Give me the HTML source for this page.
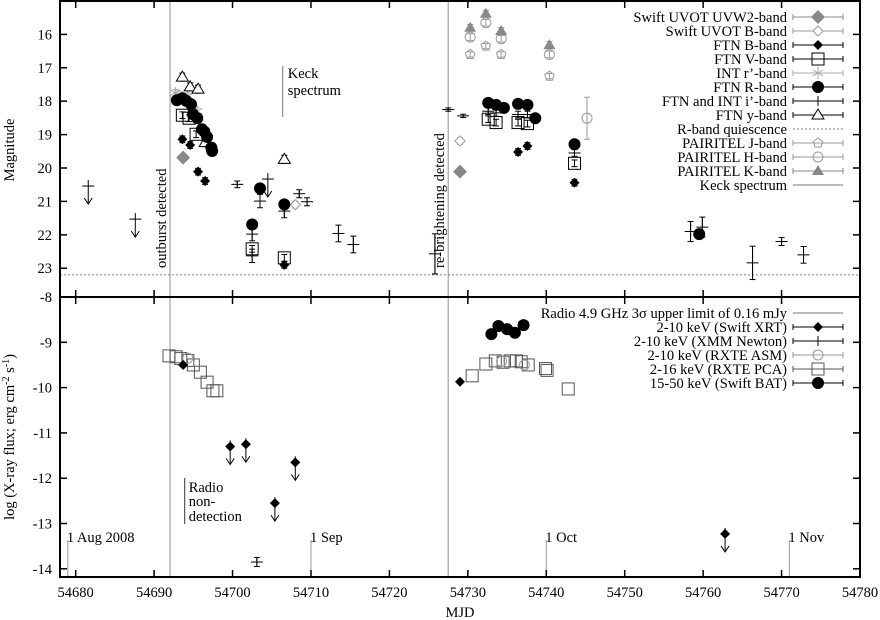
<!DOCTYPE html>
<html><head><meta charset="utf-8"><style>
body{margin:0;background:#fff}
svg{display:block;font-family:"Liberation Serif",serif;font-size:14.5px}
</style></head><body>
<svg id="c" width="880" height="620" viewBox="0 0 880 620">
<g id="marks"></g>
</svg>
<script>
// ---- axes configuration (data ranges)
const xTicks=[54680,54690,54700,54710,54720,54730,54740,54750,54760,54770,54780];
const magTicks=[16,17,18,19,20,21,22,23];
const fluxTicks=[-8,-9,-10,-11,-12,-13,-14];
const months=[["1 Aug 2008",54679],["1 Sep",54710],["1 Oct",54740],["1 Nov",54771]];
// ---- top panel data (MJD, magnitude, error)
const uvw2Mjd=[54693.7,54729.0];
const uvw2Mag=[19.69,20.11];
const uvotBMjd=[54708.0,54729.0];
const uvotBMag=[21.1,19.19];
const ftnBMjd=[54693.6,54694.6,54695.6,54696.5,54706.6,54736.4,54737.6,54743.6];
const ftnBMag=[19.14,19.31,20.11,20.39,22.9,19.52,19.34,20.44];
const ftnVMjd=[54693.6,54694.45,54695.35,54702.5,54706.6,54732.6,54733.6,54736.4,54737.6,54743.6];
const ftnVMag=[18.42,18.51,18.99,22.42,22.69,18.54,18.64,18.64,18.67,19.86];
const intRMjd=[54692.7,54693.05,54694.3,54694.95,54695.5];
const intRMag=[17.75,17.8,17.85,18.2,18.3];
const ftnRMjd=[54692.9,54693.6,54694.1,54694.7,54694.95,54695.5,54696.1,54696.4,54696.75,54697.3,54697.4,54702.5,54703.5,54706.6,54732.6,54733.6,54734.6,54736.4,54737.6,54738.6,54743.6,54759.5];
const ftnRMag=[17.97,17.91,17.99,18.09,18.39,18.51,18.84,18.91,19.07,19.39,19.49,21.69,20.61,21.09,18.05,18.11,18.2,18.08,18.11,18.51,19.29,21.98];
const iMjd=[54700.6,54702.5,54702.5,54703.5,54706.6,54708.5,54709.5,54713.5,54715.4,54725.8,54727.5,54729.4,54732.6,54733.6,54736.4,54737.6,54743.6,54758.4,54759.9,54766.3,54770.0,54772.8];
const iMag=[20.49,21.98,22.63,20.99,21.29,20.77,21.01,21.96,22.29,22.57,18.25,18.44,18.3,18.35,18.4,18.4,19.55,21.9,21.77,22.84,22.2,22.6];
const iErr=[0.1,0.2,0.2,0.2,0.2,0.12,0.12,0.25,0.25,0.6,0.05,0.05,0.1,0.1,0.1,0.1,0.1,0.3,0.3,0.5,0.12,0.25];
const iUlMjd=[54681.6,54687.6,54704.5];
const iUlMag=[20.54,21.53,20.33];
const ftnYMjd=[54693.6,54694.6,54695.6,54696.5,54706.6];
const ftnYMag=[17.28,17.57,17.64,19.24,19.74];
const jMjd=[54730.3,54732.3,54734.25,54740.4];
const jMag=[16.6,16.35,16.6,17.25];
const hMjd=[54730.3,54732.3,54734.25,54740.4,54745.2];
const hMag=[16.08,15.65,16.13,16.6,18.51];
const hErr=[0.1,0.1,0.1,0.1,0.63];
const kMjd=[54730.3,54732.3,54734.25,54740.4];
const kMag=[15.8,15.38,15.9,16.32];
const quiescence=23.2;
const outburstMjd=54692.03, rebrightMjd=54727.5, keckMjd=54706.4, radioMjd=54693.9;
// ---- bottom panel data (MJD, log flux)
const xrtMjd=[54693.7,54729.0];
const xrtFlux=[-9.5,-9.87];
const xrtUlMjd=[54699.7,54701.7,54705.4,54708.0,54762.8];
const xrtUlFlux=[-11.3,-11.25,-12.55,-11.65,-13.23];
const xmmMjd=[54703.1];
const xmmFlux=[-13.85];
const asmMjd=[54694.3,54734.3,54737.2];
const asmFlux=[-9.35,-9.42,-9.5];
const pcaMjd=[54691.9,54692.8,54693.4,54694.3,54695.0,54695.9,54696.75,54697.5,54698.0,54730.55,54732.3,54733.5,54734.5,54735.4,54736.2,54736.8,54737.7,54739.9,54740.1,54742.8];
const pcaFlux=[-9.3,-9.32,-9.36,-9.4,-9.5,-9.66,-9.88,-10.07,-10.07,-9.74,-9.48,-9.41,-9.44,-9.41,-9.41,-9.43,-9.5,-9.58,-9.62,-10.03];
const batMjd=[54733.0,54733.9,54735.0,54736.0,54737.1];
const batFlux=[-8.82,-8.64,-8.71,-8.79,-8.62];

const L=60,R=860,T=1,MID=297,B=577;
const X=m=>L+(m-54678)*(R-L)/102;
const YT=v=>T+(v-15.0)*33.4;
const YB=v=>MID+(-8-v)*45.3;
const NS="http://www.w3.org/2000/svg";
const svg=document.getElementById('marks');
function el(tag,attrs,parent){const e=document.createElementNS(NS,tag);for(const k in attrs)e.setAttribute(k,attrs[k]);(parent||svg).appendChild(e);return e;}
function txt(s,x,y,attrs,parent){const e=el('text',Object.assign({x:x,y:y},attrs||{}),parent);e.textContent=s;return e;}

function marker(type,x,y,col,g){
  if(type==='bigdiamond')el('polygon',{points:`${x},${y-7} ${x+7},${y} ${x},${y+7} ${x-7},${y}`,fill:col},g);
  else if(type==='odiamond')el('polygon',{points:`${x},${y-5} ${x+5},${y} ${x},${y+5} ${x-5},${y}`,fill:'#fff',stroke:col},g);
  else if(type==='diamond')el('polygon',{points:`${x},${y-5} ${x+5},${y} ${x},${y+5} ${x-5},${y}`,fill:col},g);
  else if(type==='square')el('rect',{x:x-6,y:y-6,width:12,height:12,fill:'none',stroke:col},g);
  else if(type==='star'){for(const a of [0,60,120]){const r=a*Math.PI/180;el('line',{x1:x-6*Math.sin(r),y1:y-6*Math.cos(r),x2:x+6*Math.sin(r),y2:y+6*Math.cos(r),stroke:col},g);}}
  else if(type==='circle')el('circle',{cx:x,cy:y,r:6,fill:col},g);
  else if(type==='ocircle')el('circle',{cx:x,cy:y,r:5,fill:'none',stroke:col},g);
  else if(type==='plus'){el('line',{x1:x-6,y1:y,x2:x+6,y2:y,stroke:col},g);}
  else if(type==='otri')el('polygon',{points:`${x},${y-6} ${x+6},${y+4} ${x-6},${y+4}`,fill:'#fff',stroke:col},g);
  else if(type==='tri')el('polygon',{points:`${x},${y-6} ${x+6},${y+4} ${x-6},${y+4}`,fill:col},g);
  else if(type==='pent'){let p=[];for(let i=0;i<5;i++){const a=-Math.PI/2+i*2*Math.PI/5;p.push((x+5*Math.cos(a)).toFixed(1)+','+(y+5*Math.sin(a)).toFixed(1));}el('polygon',{points:p.join(' '),fill:'none',stroke:col},g);}
}
function errbar(x,y1,y2,col,g){el('line',{x1:x,y1:y1,x2:x,y2:y2,stroke:col},g);el('line',{x1:x-3,y1:y1,x2:x+3,y2:y1,stroke:col},g);el('line',{x1:x-3,y1:y2,x2:x+3,y2:y2,stroke:col},g);}
function series(name,mjds,vals,errs,type,col,yf,defErr){
  const g=el('g',{});
  
  
  mjds.forEach((m,i)=>{const x=X(m),y=yf(vals[i]);const e=errs?errs[i]:defErr;
    if(e>0)errbar(x,yf(vals[i]-e),yf(vals[i]+e),col,g);
    if(type==='plus')el('line',{x1:x,y1:yf(vals[i]-e),x2:x,y2:yf(vals[i]+e),stroke:col},g);
    marker(type,x,y,col,g);});
}
function upper(name,mjds,vals,type,col,yf){
  const g=el('g',{});
  
  
  mjds.forEach((m,i)=>{const x=X(m),y=yf(vals[i]);
    marker(type,x,y,col,g);
    el('line',{x1:x,y1:y-6,x2:x,y2:y+18,stroke:col},g);
    el('polyline',{points:`${x-4},${y+12} ${x},${y+18} ${x+4},${y+12}`,fill:'none',stroke:col},g);});
}

[outburstMjd,rebrightMjd].forEach(m=>{const l=el('line',{x1:X(m),y1:T,x2:X(m),y2:B,stroke:'#aaa','stroke-width':1.3});});
const q=el('line',{x1:L,y1:YT(quiescence),x2:R,y2:YT(quiescence),stroke:'#555','stroke-dasharray':'2,2','stroke-width':0.8});


months.forEach(([s,m])=>{const x=X(m);el('line',{x1:x,y1:540,x2:x,y2:B,stroke:'#999'});const t=txt(s,x-1,542,{});});
const a1=txt('outburst detected',0,0,{transform:`translate(${X(outburstMjd)-4},268) rotate(-90)`});

const a2=txt('re-brightening detected',0,0,{transform:`translate(${X(rebrightMjd)-4},268) rotate(-90)`});

el('line',{x1:X(keckMjd),y1:66,x2:X(keckMjd),y2:117,stroke:'#777'});
const k1=txt('Keck',X(keckMjd)+5,78,{});
txt('spectrum',X(keckMjd)+5,95,{});
el('line',{x1:X(radioMjd),y1:478,x2:X(radioMjd),y2:524,stroke:'#333'});
const r1=txt('Radio',X(radioMjd)+4,492,{});
txt('non-',X(radioMjd)+4,506,{});txt('detection',X(radioMjd)+4,521,{});

series('swift-uvw2',uvw2Mjd,uvw2Mag,null,'bigdiamond','#888',YT,0.1);
series('swift-uvot-b',uvotBMjd,uvotBMag,null,'odiamond','#999',YT,0.1);
series('pairitel-j',jMjd,jMag,null,'pent','#999',YT,0.08);
series('pairitel-h',hMjd,hMag,hErr,'ocircle','#999',YT,0.1);
series('pairitel-k',kMjd,kMag,null,'tri','#888',YT,0.1);
series('int-r',intRMjd,intRMag,null,'star','#aaa',YT,0.1);
series('ftn-y',ftnYMjd,ftnYMag,null,'otri','#000',YT,0.12);
series('ftn-v',ftnVMjd,ftnVMag,null,'square','#000',YT,0.1);
series('ftn-b',ftnBMjd,ftnBMag,null,'diamond','#000',YT,0.1);
series('ftn-r',ftnRMjd,ftnRMag,null,'circle','#000',YT,0.08);
series('ftn-int-i',iMjd,iMag,iErr,'plus','#000',YT,0.1);
upper('ftn-int-i-upper-limits',iUlMjd,iUlMag,'plus','#000',YT);
series('rxte-pca',pcaMjd,pcaFlux,null,'square','#555',YB,0);
series('rxte-asm',asmMjd,asmFlux,null,'ocircle','#999',YB,0);
series('swift-xrt',xrtMjd,xrtFlux,null,'diamond','#000',YB,0);
upper('swift-xrt-upper-limits',xrtUlMjd,xrtUlFlux,'diamond','#000',YB);
series('xmm-newton',xmmMjd,xmmFlux,null,'plus','#000',YB,0.1);
series('swift-bat',batMjd,batFlux,null,'circle','#000',YB,0.08);

const ax=el('g',{});


el('rect',{x:L,y:T,width:R-L,height:B-T,fill:'none',stroke:'#000','stroke-width':2},ax);
el('line',{x1:L,y1:MID,x2:R,y2:MID,stroke:'#000','stroke-width':2},ax);
xTicks.forEach(t=>{const x=X(t);
  [[T,T+7],[MID-7,MID+7],[B-7,B]].forEach(([a,b])=>el('line',{x1:x,y1:a,x2:x,y2:b,stroke:'#000','stroke-width':1.5},ax));
  const lt=txt(String(t),x,597,{'text-anchor':'middle'},ax);
  });
magTicks.forEach(t=>{const y=YT(t);
  el('line',{x1:L,y1:y,x2:L+7,y2:y,stroke:'#000','stroke-width':1.5},ax);el('line',{x1:R-7,y1:y,x2:R,y2:y,stroke:'#000','stroke-width':1.5},ax);
  const lt=txt(String(t),52,y+5,{'text-anchor':'end'},ax);
  });
fluxTicks.forEach(t=>{const y=YB(t);
  el('line',{x1:L,y1:y,x2:L+7,y2:y,stroke:'#000','stroke-width':1.5},ax);el('line',{x1:R-7,y1:y,x2:R,y2:y,stroke:'#000','stroke-width':1.5},ax);
  const lt=txt(String(t),52,y+5,{'text-anchor':'end'},ax);
  });
const xl=txt('MJD',460,617,{'text-anchor':'middle'});

const yl=txt('Magnitude',0,0,{'text-anchor':'middle',transform:'translate(14,150) rotate(-90)'});

const yl2=el('text',{'text-anchor':'middle',transform:'translate(14,437) rotate(-90)'});
yl2.innerHTML='log (X-ray flux; erg cm<tspan dy="-5" font-size="10">-2</tspan><tspan dy="5"> s</tspan><tspan dy="-5" font-size="10">-1</tspan><tspan dy="5">)</tspan>';


function legend(items,y0){
  items.forEach(([label,type,col],i)=>{const y=y0+14*i;
    const g=el('g',{});
    
    
    txt(label,787,y+5,{'text-anchor':'end'},g);
    if(type==='dots')el('line',{x1:793,y1:y,x2:843,y2:y,stroke:'#555','stroke-dasharray':'2,2','stroke-width':0.8},g);
    else if(type==='line')el('line',{x1:793,y1:y,x2:843,y2:y,stroke:col},g);
    else{el('line',{x1:793,y1:y,x2:843,y2:y,stroke:col},g);el('line',{x1:793,y1:y-3,x2:793,y2:y+3,stroke:col},g);el('line',{x1:843,y1:y-3,x2:843,y2:y+3,stroke:col},g);
      if(type==='plus')el('line',{x1:818,y1:y-5,x2:818,y2:y+5,stroke:col},g);
      marker(type,818,y,col,g);}
  });
}
legend([["Swift UVOT UVW2-band",'bigdiamond','#888'],["Swift UVOT B-band",'odiamond','#999'],["FTN B-band",'diamond','#000'],["FTN V-band",'square','#000'],["INT r’-band",'star','#aaa'],["FTN R-band",'circle','#000'],["FTN and INT i’-band",'plus','#000'],["FTN y-band",'otri','#000'],["R-band quiescence",'dots','#555'],["PAIRITEL J-band",'pent','#999'],["PAIRITEL H-band",'ocircle','#999'],["PAIRITEL K-band",'tri','#888'],["Keck spectrum",'line','#777']],17);
legend([["Radio 4.9 GHz 3σ upper limit of 0.16 mJy",'line','#777'],["2-10 keV (Swift XRT)",'diamond','#000'],["2-10 keV (XMM Newton)",'plus','#000'],["2-10 keV (RXTE ASM)",'ocircle','#999'],["2-16 keV (RXTE PCA)",'square','#555'],["15-50 keV (Swift BAT)",'circle','#000']],313);
</script>
</body></html>
